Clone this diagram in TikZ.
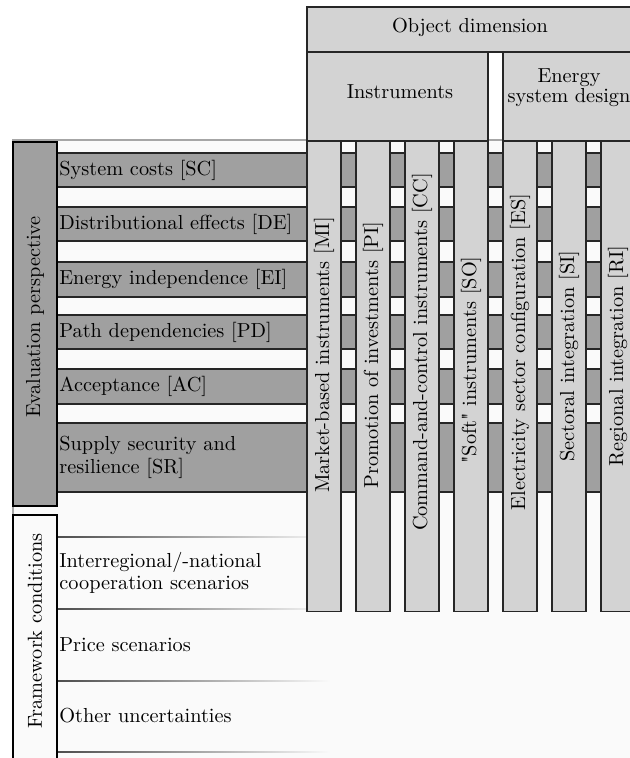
\documentclass[tikz,border=0pt]{standalone}
\usetikzlibrary{positioning}
\definecolor{bandgray}{HTML}{A0A0A0}
\definecolor{colgray}{HTML}{D3D3D3}
\definecolor{paper}{HTML}{FAFAFA}
\begin{document}
\begin{tikzpicture}[x=0.4926pt,y=-0.4926pt,
  band/.style={fill=bandgray,draw=black!85,line width=0.6pt},
  colbar/.style={fill=colgray,draw=black!85,line width=0.6pt},
  headbox/.style={fill=colgray,draw=black!85,line width=0.6pt},
  sidebox/.style={draw=black,line width=0.8pt},
  rowlab/.style={anchor=west,inner sep=0pt,align=left},
  collab/.style={rotate=90,inner sep=0pt}]
\useasboundingbox (0,0) rectangle (630,758);
\clip (0,0) rectangle (630,758);

% light panel behind the evaluation grid
\fill[paper] (13,140) rectangle (650,780);
\draw[gray!70,line width=0.6pt] (13,780) -- (13,140) -- (650,140);

% evaluation rows
\foreach \t/\b in {153/187,207/241,262/297,315/349,369/404,423/492}
  \draw[band] (57,\t) rectangle (650,\b);

% separators of the framework conditions
\foreach \y in {537,609,681,752}
  \shade[left color=black!70,right color=paper] (57,\y-0.7) rectangle (330,\y+0.7);

% object columns
\foreach \x in {307,356,405,454,503,552,601}
  \draw[colbar] (\x,141) rectangle ++(34,470.5);

% header
\draw[headbox] (307,7) rectangle (650,52);
\draw[headbox] (307,52) rectangle (488,141);
\draw[headbox] (503,52) rectangle (650,141);
\node (obj) at (470,27) {Object dimension};
\node (ins) at (400,92) {Instruments};
\node[align=center] (esd) at (569,88) {Energy\\[-2pt]system design};

% side boxes
\draw[sidebox,fill=bandgray] (13,142) rectangle (57,506);
\draw[sidebox,fill=paper] (13,515) rectangle (57,780);
\node[collab] (evp) at (35,317) {Evaluation perspective};
\node[collab] (frc) at (35,631) {Framework conditions};

% row labels
\node[rowlab] (sc) at (59,170) {System costs [SC]};
\node[rowlab] (de) at (59,224) {Distributional effects [DE]};
\node[rowlab] (ei) at (59,279.5) {Energy independence [EI]};
\node[rowlab] (pd) at (59,332) {Path dependencies [PD]};
\node[rowlab] (ac) at (59,386.5) {Acceptance [AC]};
\node[rowlab] (sr) at (59,457.5) {Supply security and\\[-1pt]resilience [SR]};
\node[rowlab] (irc) at (59,573) {Interregional/-national\\[-1pt]cooperation scenarios};
\node[rowlab] (prs) at (59,645) {Price scenarios};
\node[rowlab] (oun) at (59,716) {Other uncertainties};

% column labels
\node[collab] (mi) at (324,355) {Market-based instruments [MI]};
\node[collab] (pi) at (373,355) {Promotion of investments [PI]};
\node[collab] (cc) at (422,352) {Command-and-control instruments [CC]};
\node[collab] (so) at (471,360) {\textquotedbl Soft\textquotedbl{} instruments [SO]};
\node[collab] (es) at (520,352) {Electricity sector configuration [ES]};
\node[collab] (si) at (569,356) {Sectoral integration [SI]};
\node[collab] (ri) at (618,356) {Regional integration [RI]};
\end{tikzpicture}
\end{document}
